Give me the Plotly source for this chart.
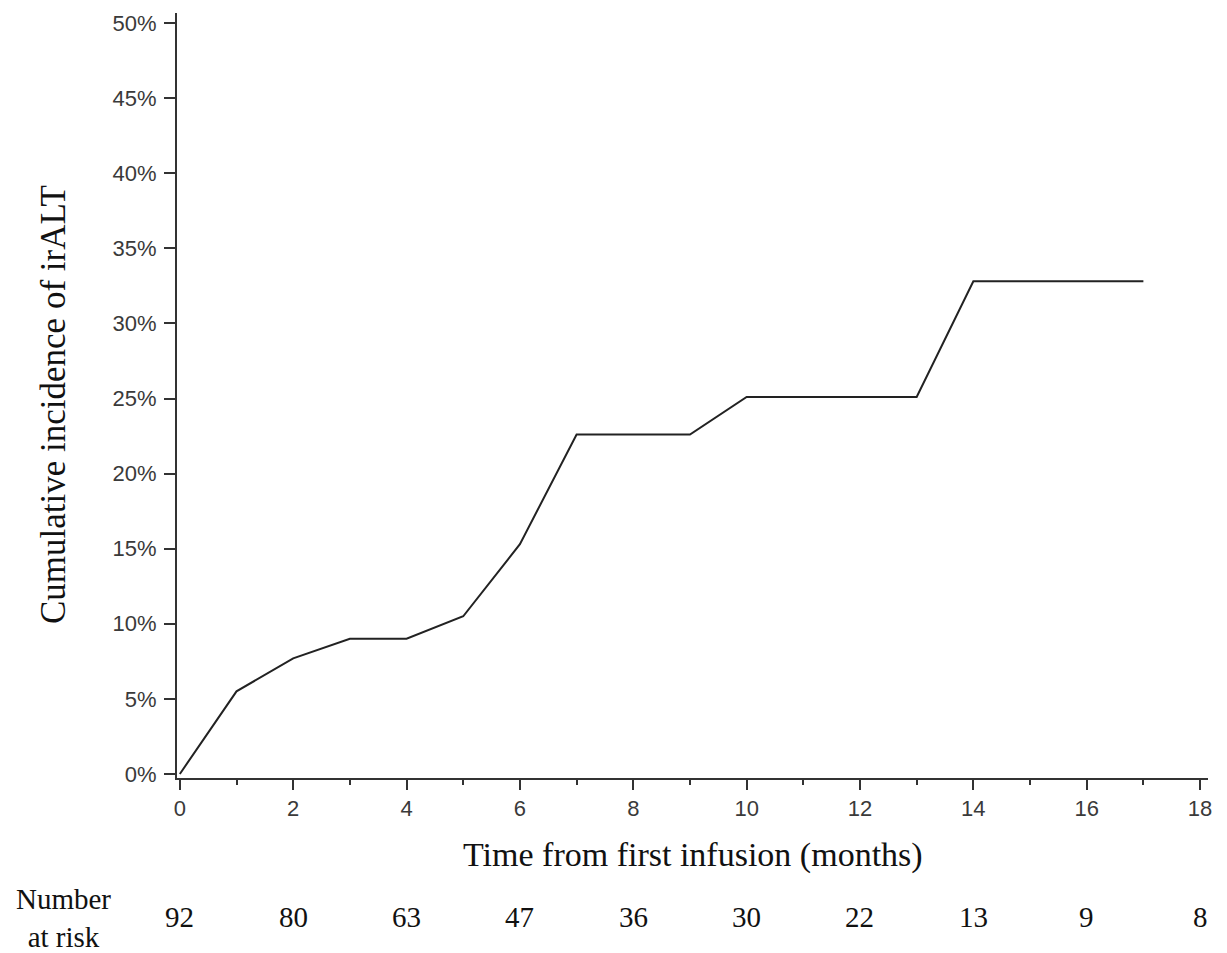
import plotly.graph_objects as go

# Data
months = [0, 1, 2, 3, 4, 5, 6, 7, 9, 10, 13, 14, 17]
incidence_pct = [0, 5.5, 7.7, 9.0, 9.0, 10.5, 15.3, 22.6, 22.6, 25.1, 25.1, 32.8, 32.8]

risk_times = [0, 2, 4, 6, 8, 10, 12, 14, 16, 18]
risk_counts = [92, 80, 63, 47, 36, 30, 22, 13, 9, 8]

x_ticks = list(range(0, 19, 2))
y_ticks = list(range(0, 51, 5))
y_tick_labels = [f"{v}%" for v in y_ticks]

W, H = 1227, 953
ML, MR, MT, MB = 177, 19, 13, 175
plot_w = W - ML - MR
plot_h = H - MT - MB

def px_to_paper_x(px):
    return (px - ML) / plot_w

def px_to_paper_y(py):
    return (H - MB - py) / plot_h

SERIF = "Liberation Serif, Times New Roman, serif"
SANS = "Liberation Sans, Arial, sans-serif"
AX = "#333333"

fig = go.Figure()
fig.add_trace(go.Scatter(
    x=months, y=incidence_pct, mode="lines",
    line=dict(color="#222222", width=2),
    showlegend=False, hoverinfo="skip",
))

fig.update_xaxes(
    range=[-0.05, 18.14], tickmode="array", tickvals=x_ticks,
    ticktext=[str(v) for v in x_ticks],
    showline=True, linecolor=AX, linewidth=2,
    ticks="outside", ticklen=10, tickwidth=2, tickcolor=AX,
    minor=dict(dtick=1, tick0=0, ticks="outside", ticklen=5, tickwidth=2, tickcolor=AX),
    showgrid=False, zeroline=False,
    tickfont=dict(family=SANS, size=22, color="#3a3a3a"),
)
fig.update_yaxes(
    range=[-0.27, 50.67], tickmode="array", tickvals=y_ticks, ticktext=y_tick_labels,
    showline=True, linecolor=AX, linewidth=2,
    ticks="outside", ticklen=11, tickwidth=2, tickcolor=AX,
    ticklabelstandoff=3,
    showgrid=False, zeroline=False,
    tickfont=dict(family=SANS, size=22, color="#3a3a3a"),
)

annotations = []
# Axis titles
annotations.append(dict(
    text="Time from first infusion (months)", xref="paper", yref="paper",
    x=0.5, y=px_to_paper_y(855), xanchor="center", yanchor="middle",
    showarrow=False, font=dict(family=SERIF, size=34, color="#111111"),
))
annotations.append(dict(
    text="Cumulative incidence of irALT", xref="paper", yref="paper",
    x=px_to_paper_x(54), y=px_to_paper_y(405), xanchor="center", yanchor="middle",
    textangle=-90, showarrow=False, font=dict(family=SERIF, size=35, color="#111111"),
))
# Number at risk row
annotations.append(dict(
    text="Number<br>at risk", xref="paper", yref="paper",
    x=px_to_paper_x(63), y=px_to_paper_y(918), xanchor="center", yanchor="middle",
    showarrow=False, align="center", font=dict(family=SERIF, size=29, color="#111111"),
))
for t, c in zip(risk_times, risk_counts):
    annotations.append(dict(
        text=str(c), xref="x", yref="paper", x=t, y=px_to_paper_y(917),
        xanchor="center", yanchor="middle", showarrow=False,
        font=dict(family=SERIF, size=29, color="#111111"),
    ))

fig.update_layout(
    width=W, height=H,
    margin=dict(l=ML, r=MR, t=MT, b=MB),
    paper_bgcolor="white", plot_bgcolor="white",
    annotations=annotations,
    showlegend=False,
)

fig.write_html(
    "out.html",
    config={"displayModeBar": False},
    post_script="document.body.style.margin='0';document.body.style.padding='0';",
)
